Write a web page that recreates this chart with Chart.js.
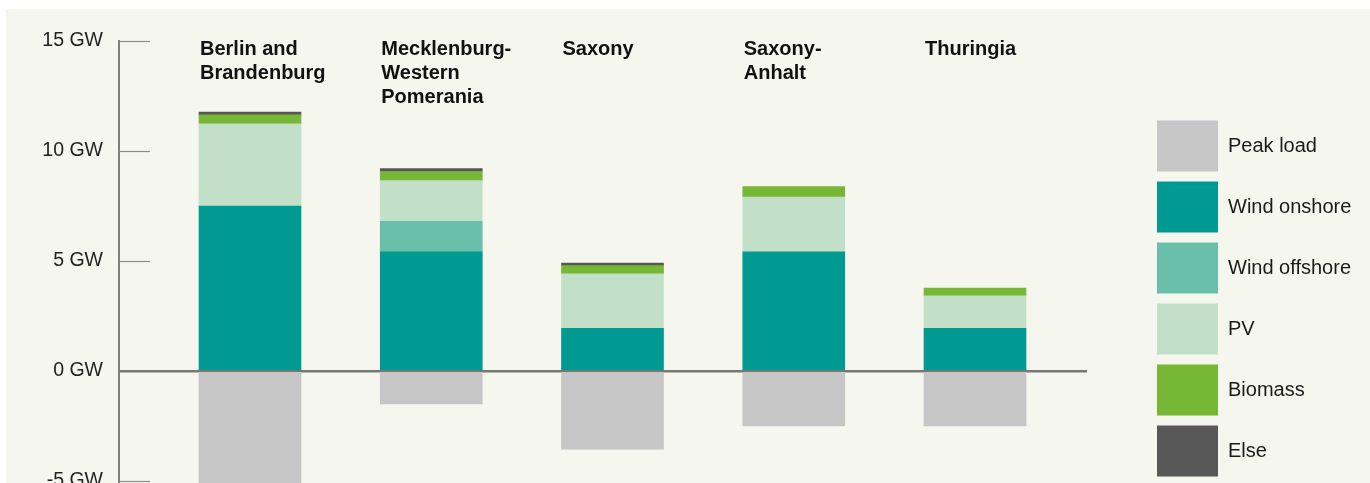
<!DOCTYPE html>
<html>
<head>
<meta charset="utf-8">
<script src="https://cdn.jsdelivr.net/npm/chart.js@4/dist/chart.umd.min.js"></script>
<style>
  html, body { margin: 0; padding: 0; background: #fff; }
  #wrap { position: relative; width: 1370px; height: 483px; overflow: hidden; }
  #panel { position: absolute; left: 6px; top: 9px; right: 0; bottom: 0; background: #f5f7ee; }
  #box { position: absolute; left: 0; top: 0; width: 1370px; height: 500px; }
</style>
</head>
<body>
<div id="wrap">
  <div id="panel"></div>
  <div id="box"><canvas id="chart"></canvas></div>
</div>
<script>
// regions (one label line per array entry)
const categories = [
  ['Berlin and', 'Brandenburg'],
  ['Mecklenburg-', 'Western', 'Pomerania'],
  ['Saxony'],
  ['Saxony-', 'Anhalt'],
  ['Thuringia']
];

// GW per region
const peakLoad     = [-6.0, -1.5, -3.55, -2.5, -2.5];
const windOnshore  = [7.5, 5.42, 1.94, 5.42, 1.94];
const windOffshore = [null, 1.38, null, null, null];
const pv           = [3.73, 1.85, 2.48, 2.49, 1.48];
const biomass      = [0.41, 0.42, 0.37, 0.47, 0.35];
const other        = [0.13, 0.13, 0.12, null, null];

const yTicks = [-5, 0, 5, 10, 15];

const FONT = '"Liberation Sans", Arial, Helvetica, sans-serif';

// ---------------- helpers ----------------

function toPoints(arr) {
  return arr.map((v, i) => ({ x: i, y: v }));
}

function series(label, arr, color) {
  return {
    label: label,
    data: toPoints(arr),
    backgroundColor: color,
    borderWidth: 0
  };
}

// short tick marks pointing into the plot, and region names above bars
const decorations = {
  id: 'decorations',
  afterDatasetsDraw(chart) {
    const ctx = chart.ctx;
    const y = chart.scales.y;
    const area = chart.chartArea;

    ctx.save();
    ctx.strokeStyle = '#8a8c88';
    ctx.lineWidth = 1.2;
    y.ticks.forEach(t => {
      if (t.value === 0) return;
      const py = Math.round(y.getPixelForValue(t.value)) + 0.5;
      ctx.beginPath();
      ctx.moveTo(area.left, py);
      ctx.lineTo(area.left + 31, py);
      ctx.stroke();
    });

    const meta = chart.getDatasetMeta(1);
    ctx.fillStyle = '#111';
    ctx.font = 'bold 20px ' + FONT;
    ctx.textAlign = 'left';
    ctx.textBaseline = 'alphabetic';
    categories.forEach((lines, i) => {
      const bar = meta.data[i];
      const left = bar.x - bar.width / 2;
      lines.forEach((ln, k) => {
        ctx.fillText(ln, left + 1, area.top + 14 + k * 24);
      });
    });
    ctx.restore();
  }
};

new Chart(document.getElementById('chart'), {
  type: 'bar',
  data: {
    datasets: [
      series('Peak load', peakLoad, '#c5c6c5'),
      series('Wind onshore', windOnshore, '#009a92'),
      series('Wind offshore', windOffshore, '#6abfab'),
      series('PV', pv, '#c2e0c8'),
      series('Biomass', biomass, '#77b736'),
      series('Else', other, '#575757')
    ]
  },
  options: {
    responsive: true,
    maintainAspectRatio: false,
    animation: false,
    barThickness: 102,
    layout: { padding: { left: 0, top: 41, right: 8.6, bottom: 13.5 } },
    plugins: {
      tooltip: { enabled: false },
      legend: {
        position: 'right',
        align: 'end',
        labels: {
          boxWidth: 61,
          boxHeight: 51,
          padding: 10,
          color: '#1a1a1a',
          font: { family: FONT, size: 20 }
        }
      }
    },
    scales: {
      x: {
        type: 'linear',
        stacked: true,
        display: false,
        offset: false,
        grace: 0,
        min: -0.7228,
        max: 4.6179
      },
      y: {
        stacked: true,
        min: -5.25,
        max: 15,
        afterBuildTicks: s => { s.ticks = yTicks.map(v => ({ value: v })); },
        afterFit: s => { s.width = 119; s.paddingTop = 0; s.paddingBottom = 0; },
        border: { display: true, color: '#7d7f7b', width: 2 },
        grid: {
          drawTicks: false,
          color: c => (c.tick && c.tick.value === 0) ? '#767873' : 'rgba(0,0,0,0)',
          lineWidth: c => (c.tick && c.tick.value === 0) ? 2.5 : 0
        },
        ticks: {
          padding: 16,
          color: '#222',
          font: { family: FONT, size: 19.5 },
          callback: v => v + ' GW'
        }
      },
      y2: {
        position: 'right',
        display: true,
        grid: { display: false },
        border: { display: false },
        ticks: { display: false },
        afterFit: s => { s.width = 60; s.paddingTop = 0; s.paddingBottom = 0; }
      }
    }
  },
  plugins: [decorations]
});
</script>
</body>
</html>
